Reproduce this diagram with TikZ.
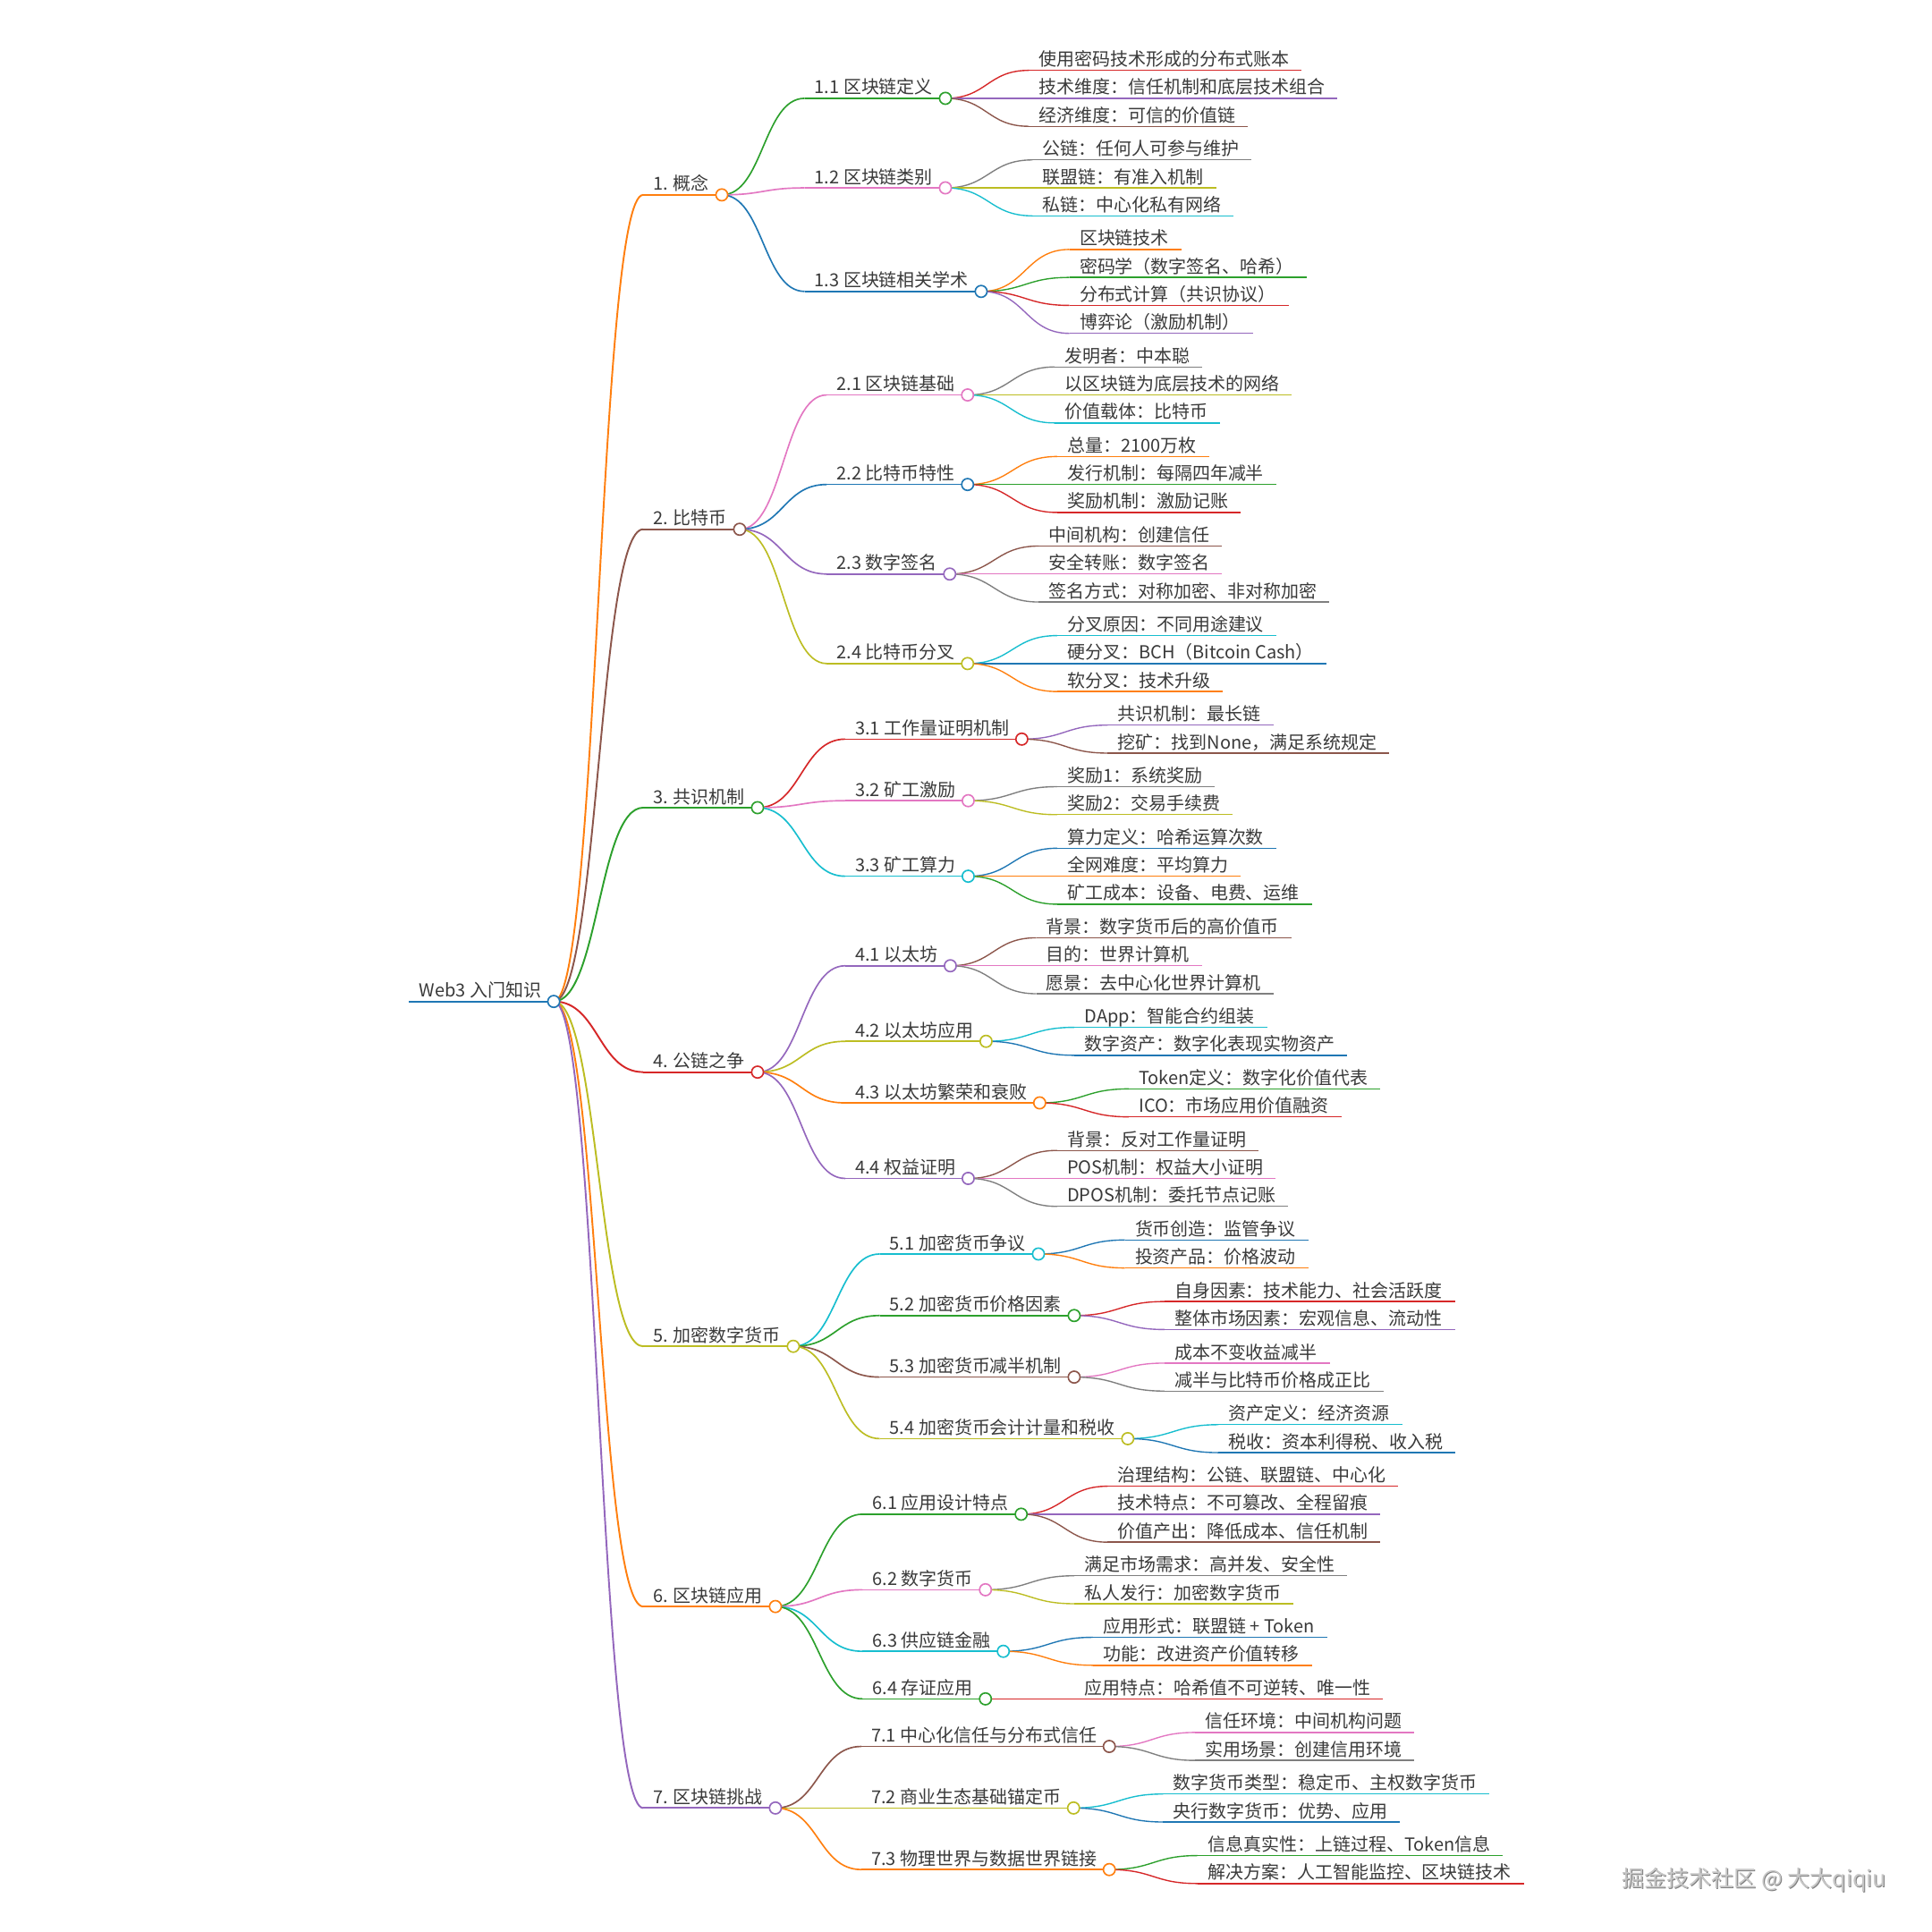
\documentclass[tikz,border=0pt]{standalone}
\usepackage{fontspec}
\setmainfont{Noto Sans CJK SC}
\usetikzlibrary{calc}
\definecolor{cB}{HTML}{1F77B4}
\definecolor{cO}{HTML}{FF7F0E}
\definecolor{cG}{HTML}{2CA02C}
\definecolor{cR}{HTML}{D62728}
\definecolor{cP}{HTML}{9467BD}
\definecolor{cN}{HTML}{8C564B}
\definecolor{cK}{HTML}{E377C2}
\definecolor{cY}{HTML}{7F7F7F}
\definecolor{cL}{HTML}{BCBD22}
\definecolor{cC}{HTML}{17BECF}
\definecolor{txtc}{HTML}{3A3A3A}
\newcommand\mm[6]{%
  \coordinate (#1-l) at (#2,#3);
  \node[mmtext] (#1) at ($(#1-l)+(8,-3.6)$) {#6};
  \coordinate (#1-r) at ($(#1.base east)+(10,3.6)$);
  \draw[#4, line width=#5pt] (#1-l) -- (#1-r);
}
\newcommand\me[4]{%
  \draw[#3, line width=#4pt] let \p1=(#1-r), \p2=(#2-l) in
    (\p1) .. controls ({(\x1+\x2)/2},\y1) and ({(\x1+\x2)/2},\y2) .. (\p2);
}
\newcommand\mc[2]{\draw[#2, line width=1.2pt, fill=white] (#1-r) circle[radius=4.8pt];}
\begin{document}
\begin{tikzpicture}[x=1pt,y=-1pt,
  mmtext/.style={anchor=base west, inner sep=0pt, font=\fontsize{14.5}{17}\selectfont, text=txtc},
  wmtext/.style={anchor=base west, inner sep=0pt, font=\fontsize{18.2}{20}\selectfont}]
\fill[white] (0,0) rectangle (1568,1568);
\useasboundingbox (0,0) rectangle (1568,1568);
% root
\mm{r}{332}{812.76}{cB}{1.6}{Web3 入门知识}
% level 1
\mm{a}{522}{158.16}{cO}{1.4}{1. 概念}
\mm{b}{522}{429.54}{cN}{1.4}{2. 比特币}
\mm{c}{522}{655.5}{cG}{1.4}{3. 共识机制}
\mm{d}{522}{870.1}{cR}{1.4}{4. 公链之争}
\mm{e}{522}{1092.65}{cL}{1.4}{5. 加密数字货币}
\mm{f}{522}{1303.84}{cO}{1.4}{6. 区块链应用}
\mm{g}{522}{1467.35}{cP}{1.4}{7. 区块链挑战}
% level 2
\mm{a1}{653}{79.81}{cG}{1.2}{1.1 区块链定义}
\mm{a2}{653}{152.48}{cK}{1.2}{1.2 区块链类别}
\mm{a3}{653}{236.51}{cB}{1.2}{1.3 区块链相关学术}
\mm{b1}{671}{320.53}{cK}{1.2}{2.1 区块链基础}
\mm{b2}{671}{393.2}{cB}{1.2}{2.2 比特币特性}
\mm{b3}{671}{465.87}{cP}{1.2}{2.3 数字签名}
\mm{b4}{671}{538.54}{cL}{1.2}{2.4 比特币分叉}
\mm{c1}{686}{599.86}{cR}{1.2}{3.1 工作量证明机制}
\mm{c2}{686}{649.82}{cK}{1.2}{3.2 矿工激励}
\mm{c3}{686}{711.13}{cC}{1.2}{3.3 矿工算力}
\mm{d1}{686}{783.8}{cP}{1.2}{4.1 以太坊}
\mm{d2}{686}{845.12}{cL}{1.2}{4.2 以太坊应用}
\mm{d3}{686}{895.08}{cO}{1.2}{4.3 以太坊繁荣和衰败}
\mm{d4}{686}{956.39}{cP}{1.2}{4.4 权益证明}
\mm{e1}{714}{1017.71}{cC}{1.2}{5.1 加密货币争议}
\mm{e2}{714}{1067.67}{cG}{1.2}{5.2 加密货币价格因素}
\mm{e3}{714}{1117.63}{cN}{1.2}{5.3 加密货币减半机制}
\mm{e4}{714}{1167.59}{cL}{1.2}{5.4 加密货币会计计量和税收}
\mm{f1}{700}{1228.9}{cG}{1.2}{6.1 应用设计特点}
\mm{f2}{700}{1290.22}{cK}{1.2}{6.2 数字货币}
\mm{f3}{700}{1340.18}{cC}{1.2}{6.3 供应链金融}
\mm{f4}{700}{1378.78}{cG}{1.2}{6.4 存证应用}
\mm{g1}{699}{1417.39}{cN}{1.2}{7.1 中心化信任与分布式信任}
\mm{g2}{699}{1467.35}{cL}{1.2}{7.2 商业生态基础锚定币}
\mm{g3}{699}{1517.31}{cO}{1.2}{7.3 物理世界与数据世界链接}
% leaves
\mm{a1a}{835}{57.1}{cR}{1.0}{使用密码技术形成的分布式账本}
\mm{a1b}{835}{79.81}{cP}{1.0}{技术维度：信任机制和底层技术组合}
\mm{a1c}{835}{102.52}{cN}{1.0}{经济维度：可信的价值链}
\mm{a2a}{838}{129.77}{cY}{1.0}{公链：任何人可参与维护}
\mm{a2b}{838}{152.48}{cL}{1.0}{联盟链：有准入机制}
\mm{a2c}{838}{175.19}{cC}{1.0}{私链：中心化私有网络}
\mm{a3a}{868}{202.44}{cO}{1.0}{区块链技术}
\mm{a3b}{868}{225.15}{cG}{1.0}{密码学（数字签名、哈希）}
\mm{a3c}{868}{247.86}{cR}{1.0}{分布式计算（共识协议）}
\mm{a3d}{868}{270.57}{cP}{1.0}{博弈论（激励机制）}
\mm{b1a}{856}{297.82}{cY}{1.0}{发明者：中本聪}
\mm{b1b}{856}{320.53}{cL}{1.0}{以区块链为底层技术的网络}
\mm{b1c}{856}{343.24}{cC}{1.0}{价值载体：比特币}
\mm{b2a}{858}{370.49}{cO}{1.0}{总量：2100万枚}
\mm{b2b}{858}{393.2}{cG}{1.0}{发行机制：每隔四年减半}
\mm{b2c}{858}{415.91}{cR}{1.0}{奖励机制：激励记账}
\mm{b3a}{843}{443.16}{cN}{1.0}{中间机构：创建信任}
\mm{b3b}{843}{465.87}{cK}{1.0}{安全转账：数字签名}
\mm{b3c}{843}{488.58}{cY}{1.0}{签名方式：对称加密、非对称加密}
\mm{b4a}{858}{515.83}{cC}{1.0}{分叉原因：不同用途建议}
\mm{b4b}{858}{538.54}{cB}{1.0}{硬分叉：BCH（Bitcoin Cash）}
\mm{b4c}{858}{561.25}{cO}{1.0}{软分叉：技术升级}
\mm{c1a}{899}{588.5}{cP}{1.0}{共识机制：最长链}
\mm{c1b}{899}{611.21}{cN}{1.0}{挖矿：找到None，满足系统规定}
\mm{c2a}{858}{638.46}{cY}{1.0}{奖励1：系统奖励}
\mm{c2b}{858}{661.17}{cL}{1.0}{奖励2：交易手续费}
\mm{c3a}{858}{688.42}{cB}{1.0}{算力定义：哈希运算次数}
\mm{c3b}{858}{711.13}{cO}{1.0}{全网难度：平均算力}
\mm{c3c}{858}{733.84}{cG}{1.0}{矿工成本：设备、电费、运维}
\mm{d1a}{841}{761.09}{cN}{1.0}{背景：数字货币后的高价值币}
\mm{d1b}{841}{783.8}{cK}{1.0}{目的：世界计算机}
\mm{d1c}{841}{806.51}{cY}{1.0}{愿景：去中心化世界计算机}
\mm{d2a}{872}{833.76}{cC}{1.0}{DApp：智能合约组装}
\mm{d2b}{872}{856.47}{cB}{1.0}{数字资产：数字化表现实物资产}
\mm{d3a}{916}{883.72}{cG}{1.0}{Token定义：数字化价值代表}
\mm{d3b}{916}{906.43}{cR}{1.0}{ICO：市场应用价值融资}
\mm{d4a}{858}{933.68}{cN}{1.0}{背景：反对工作量证明}
\mm{d4b}{858}{956.39}{cK}{1.0}{POS机制：权益大小证明}
\mm{d4c}{858}{979.1}{cY}{1.0}{DPOS机制：委托节点记账}
\mm{e1a}{913}{1006.35}{cB}{1.0}{货币创造：监管争议}
\mm{e1b}{913}{1029.06}{cO}{1.0}{投资产品：价格波动}
\mm{e2a}{945}{1056.31}{cR}{1.0}{自身因素：技术能力、社会活跃度}
\mm{e2b}{945}{1079.02}{cP}{1.0}{整体市场因素：宏观信息、流动性}
\mm{e3a}{945}{1106.27}{cK}{1.0}{成本不变收益减半}
\mm{e3b}{945}{1128.98}{cY}{1.0}{减半与比特币价格成正比}
\mm{e4a}{989}{1156.23}{cC}{1.0}{资产定义：经济资源}
\mm{e4b}{989}{1178.94}{cB}{1.0}{税收：资本利得税、收入税}
\mm{f1a}{899}{1206.19}{cR}{1.0}{治理结构：公链、联盟链、中心化}
\mm{f1b}{899}{1228.9}{cP}{1.0}{技术特点：不可篡改、全程留痕}
\mm{f1c}{899}{1251.61}{cN}{1.0}{价值产出：降低成本、信任机制}
\mm{f2a}{872}{1278.86}{cY}{1.0}{满足市场需求：高并发、安全性}
\mm{f2b}{872}{1301.57}{cL}{1.0}{私人发行：加密数字货币}
\mm{f3a}{887}{1328.82}{cB}{1.0}{应用形式：联盟链 + Token}
\mm{f3b}{887}{1351.53}{cO}{1.0}{功能：改进资产价值转移}
\mm{f4a}{872}{1378.78}{cR}{1.0}{应用特点：哈希值不可逆转、唯一性}
\mm{g1a}{970}{1406.03}{cK}{1.0}{信任环境：中间机构问题}
\mm{g1b}{970}{1428.74}{cY}{1.0}{实用场景：创建信用环境}
\mm{g2a}{944}{1455.99}{cC}{1.0}{数字货币类型：稳定币、主权数字货币}
\mm{g2b}{944}{1478.7}{cB}{1.0}{央行数字货币：优势、应用}
\mm{g3a}{972}{1505.95}{cG}{1.0}{信息真实性：上链过程、Token信息}
\mm{g3b}{972}{1528.66}{cR}{1.0}{解决方案：人工智能监控、区块链技术}
% edges
\foreach \ea/\eb/\ec/\ed in {
  r/a/cO/1.4, r/b/cN/1.4, r/c/cG/1.4, r/d/cR/1.4, r/e/cL/1.4, r/f/cO/1.4, r/g/cP/1.4,
  a/a1/cG/1.2, a/a2/cK/1.2, a/a3/cB/1.2,
  b/b1/cK/1.2, b/b2/cB/1.2, b/b3/cP/1.2, b/b4/cL/1.2,
  c/c1/cR/1.2, c/c2/cK/1.2, c/c3/cC/1.2,
  d/d1/cP/1.2, d/d2/cL/1.2, d/d3/cO/1.2, d/d4/cP/1.2,
  e/e1/cC/1.2, e/e2/cG/1.2, e/e3/cN/1.2, e/e4/cL/1.2,
  f/f1/cG/1.2, f/f2/cK/1.2, f/f3/cC/1.2, f/f4/cG/1.2,
  g/g1/cN/1.2, g/g2/cL/1.2, g/g3/cO/1.2,
  a1/a1a/cR/1.0, a1/a1b/cP/1.0, a1/a1c/cN/1.0,
  a2/a2a/cY/1.0, a2/a2b/cL/1.0, a2/a2c/cC/1.0,
  a3/a3a/cO/1.0, a3/a3b/cG/1.0, a3/a3c/cR/1.0, a3/a3d/cP/1.0,
  b1/b1a/cY/1.0, b1/b1b/cL/1.0, b1/b1c/cC/1.0,
  b2/b2a/cO/1.0, b2/b2b/cG/1.0, b2/b2c/cR/1.0,
  b3/b3a/cN/1.0, b3/b3b/cK/1.0, b3/b3c/cY/1.0,
  b4/b4a/cC/1.0, b4/b4b/cB/1.0, b4/b4c/cO/1.0,
  c1/c1a/cP/1.0, c1/c1b/cN/1.0,
  c2/c2a/cY/1.0, c2/c2b/cL/1.0,
  c3/c3a/cB/1.0, c3/c3b/cO/1.0, c3/c3c/cG/1.0,
  d1/d1a/cN/1.0, d1/d1b/cK/1.0, d1/d1c/cY/1.0,
  d2/d2a/cC/1.0, d2/d2b/cB/1.0,
  d3/d3a/cG/1.0, d3/d3b/cR/1.0,
  d4/d4a/cN/1.0, d4/d4b/cK/1.0, d4/d4c/cY/1.0,
  e1/e1a/cB/1.0, e1/e1b/cO/1.0,
  e2/e2a/cR/1.0, e2/e2b/cP/1.0,
  e3/e3a/cK/1.0, e3/e3b/cY/1.0,
  e4/e4a/cC/1.0, e4/e4b/cB/1.0,
  f1/f1a/cR/1.0, f1/f1b/cP/1.0, f1/f1c/cN/1.0,
  f2/f2a/cY/1.0, f2/f2b/cL/1.0,
  f3/f3a/cB/1.0, f3/f3b/cO/1.0,
  f4/f4a/cR/1.0,
  g1/g1a/cK/1.0, g1/g1b/cY/1.0,
  g2/g2a/cC/1.0, g2/g2b/cB/1.0,
  g3/g3a/cG/1.0, g3/g3b/cR/1.0}{\me{\ea}{\eb}{\ec}{\ed}}
% circles
\foreach \na/\nc in {r/cB, a/cO, b/cN, c/cG, d/cR, e/cL, f/cO, g/cP,
  a1/cG, a2/cK, a3/cB, b1/cK, b2/cB, b3/cP, b4/cL, c1/cR, c2/cK, c3/cC,
  d1/cP, d2/cL, d3/cO, d4/cP, e1/cC, e2/cG, e3/cN, e4/cL,
  f1/cG, f2/cK, f3/cC, f4/cG, g1/cN, g2/cL, g3/cO}{\mc{\na}{\nc}}
% watermark
\node[wmtext, text=black!50] (wms) at (1316.8,1532.1) {掘金技术社区 @ 大大qiqiu};
\node[wmtext, text=black!22] (wm) at (1316,1531.3) {掘金技术社区 @ 大大qiqiu};
\end{tikzpicture}
\end{document}
